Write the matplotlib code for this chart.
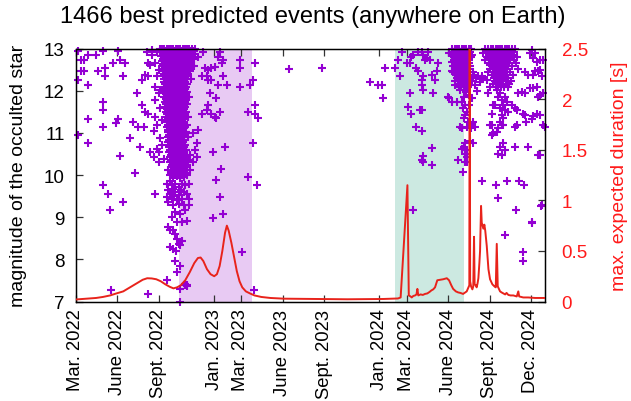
import matplotlib
matplotlib.use('Agg')
import matplotlib.pyplot as plt
import numpy as np

plt.rcParams['font.family'] = ['Liberation Sans', 'DejaVu Sans']

# all dates are given as days after 1 March 2022
START = np.datetime64('2022-03-01')

# sparse events, spring/summer 2022  (day, magnitude)
spring_2022 = [
    (6, 12.95), (11, 12.73), (18, 12.73), (28, 12.84), (45, 12.84), (61, 12.95), (94, 12.95),
    (83, 12.66), (98, 12.73), (109, 12.66), (11, 12.46), (18, 12.46), (6, 12.26), (28, 12.14),
    (50, 12.46), (65, 12.54), (65, 12.34), (105, 12.34), (61, 11.74), (61, 11.54), (28, 11.34),
    (94, 11.34), (90, 11.23), (61, 11.15), (127, 11.27), (138, 11.15), (6, 10.95), (28, 10.75),
    (120, 10.87), (98, 10.45), (131, 10.06), (135, 11.94), (61, 9.76), (72, 9.56), (105, 9.36),
    (75, 9.16), (79, 7.28), (160, 7.18), (175, 9.56),
    (157, 12.93), (164, 12.61), (175, 12.65), (160, 12.34), (153, 12.38), (179, 12.34),
    (175, 12.1), (186, 12.02), (183, 11.94), (146, 11.66), (153, 11.5), (160, 11.46),
    (175, 11.38), (179, 11.19), (150, 11.15), (186, 10.87), (190, 10.71), (183, 10.55),
    (164, 10.55), (172, 10.43), (183, 10.31), (194, 10.39), (146, 12.26), (168, 12.85),
    (179, 12.93), (142, 10.67), (179, 10.63), (175, 11.78), (160, 12.66), (168, 12.97),
    (183, 12.5), (186, 11.6), (172, 11.05), (190, 11.3),
]

# the dense column of autumn 2022: magnitude -> days
column_2022 = [
    (13.00, [186, 191, 196, 201, 206, 211, 216, 221, 226, 231, 236, 241, 246, 251, 257, 264]),
    (12.94, [189, 194, 199, 204, 209, 214, 219, 224, 229, 234, 239, 244, 249, 255, 261]),
    (12.88, [192, 197, 202, 207, 212, 217, 222, 227, 232, 237, 242, 247, 253, 259]),
    (12.82, [188, 195, 200, 205, 210, 215, 220, 225, 230, 235, 240, 245, 251, 256]),
    (12.76, [193, 198, 203, 208, 213, 218, 223, 228, 233, 238, 243, 249, 262]),
    (12.70, [190, 196, 201, 206, 211, 216, 221, 226, 231, 236, 241, 247, 254]),
    (12.64, [193, 199, 204, 209, 214, 219, 224, 229, 234, 239, 245, 251]),
    (12.58, [191, 196, 202, 207, 212, 217, 222, 227, 232, 237, 243, 249, 257]),
    (12.52, [194, 199, 205, 210, 215, 220, 225, 230, 235, 241, 247]),
    (12.46, [192, 197, 203, 208, 213, 218, 223, 228, 233, 238, 244, 252]),
    (12.40, [195, 200, 206, 211, 216, 221, 226, 231, 236, 242, 248]),
    (12.34, [193, 198, 204, 209, 214, 219, 224, 229, 234, 240, 246]),
    (12.28, [196, 201, 207, 212, 217, 222, 227, 232, 238, 244, 254]),
    (12.22, [194, 199, 205, 210, 215, 220, 225, 230, 236, 242]),
    (12.16, [197, 202, 208, 213, 218, 223, 228, 233, 239, 247]),
    (12.10, [195, 200, 206, 211, 216, 221, 226, 231, 237, 243]),
    (12.04, [198, 203, 209, 214, 219, 224, 229, 235, 241]),
    (11.98, [196, 201, 207, 212, 217, 222, 227, 232, 238, 246]),
    (11.92, [199, 204, 210, 215, 220, 225, 230, 236, 242]),
    (11.86, [196, 202, 208, 213, 218, 223, 228, 234, 240, 250]),
    (11.80, [200, 205, 211, 216, 221, 226, 231, 237, 243]),
    (11.74, [197, 203, 209, 214, 219, 224, 229, 235, 241]),
    (11.68, [200, 206, 212, 217, 222, 227, 232, 238, 246]),
    (11.62, [198, 204, 210, 215, 220, 225, 230, 236, 242]),
    (11.56, [201, 207, 213, 218, 223, 228, 233, 239]),
    (11.50, [199, 205, 211, 216, 221, 226, 231, 237, 244]),
    (11.44, [202, 208, 214, 219, 224, 229, 234, 240]),
    (11.38, [200, 206, 212, 217, 222, 227, 232, 238, 248]),
    (11.32, [203, 209, 215, 220, 225, 230, 235, 241]),
    (11.26, [201, 207, 213, 218, 223, 228, 233, 239]),
    (11.20, [204, 210, 216, 221, 226, 231, 237, 245]),
    (11.14, [202, 208, 214, 219, 224, 229, 235, 241]),
    (11.08, [205, 211, 217, 222, 227, 232, 238]),
    (11.02, [203, 209, 215, 220, 225, 230, 236, 243]),
    (10.96, [206, 212, 218, 223, 228, 233, 239]),
    (10.90, [204, 210, 216, 221, 226, 231, 237, 248]),
    (10.84, [207, 213, 219, 224, 229, 234, 240]),
    (10.78, [205, 211, 217, 222, 227, 232, 238]),
    (10.72, [208, 214, 220, 225, 230, 235, 242]),
    (10.66, [206, 212, 218, 223, 228, 233, 239]),
    (10.60, [209, 215, 221, 226, 231, 236, 244]),
    (10.54, [207, 213, 219, 224, 229, 234, 240]),
    (10.48, [210, 216, 222, 227, 232, 238, 246]),
    (10.42, [208, 214, 220, 225, 230, 235, 241]),
    (10.36, [211, 217, 223, 228, 233, 239, 249]),
    (10.30, [209, 215, 221, 226, 231, 237, 243]),
    (10.24, [212, 218, 224, 229, 234, 240, 247]),
    (10.18, [210, 216, 222, 227, 232, 238, 244]),
    (10.12, [213, 219, 225, 230, 236, 242, 252]),
    (10.06, [211, 217, 223, 228, 234, 240, 247]),
    (10.00, [214, 220, 226, 232, 238]),
]

# tail of the column below mag 10
column_tail_2022 = [
    (205, 10.11), (209, 9.99), (216, 9.94), (224, 9.97), (231, 9.92), (239, 9.96), (246, 9.99),
    (201, 9.8), (208, 9.86), (212, 9.76), (220, 9.8), (228, 9.72), (235, 9.8), (242, 9.76),
    (250, 9.8), (205, 9.64), (209, 9.56), (216, 9.68), (220, 9.6), (228, 9.52), (232, 9.64),
    (239, 9.6), (246, 9.56), (201, 9.48), (212, 9.44), (218, 9.5), (224, 9.4), (235, 9.44),
    (250, 9.44), (205, 9.36), (216, 9.28), (228, 9.32), (239, 9.28), (250, 9.28),
    (220, 9.12), (231, 9.08), (242, 9.16), (212, 9.0), (224, 8.88), (235, 8.88), (246, 8.92),
    (205, 8.77), (209, 8.69), (216, 8.69), (220, 8.61), (224, 8.49), (228, 8.37), (209, 8.29),
    (216, 8.25), (222, 8.21), (231, 8.33), (235, 8.43), (220, 7.97), (231, 7.85), (224, 7.7),
    (242, 7.42), (246, 7.38), (230, 7.0), (230, 7.3), (201, 7.5),
]

# sparse events inside and after the winter 2022/23 window
winter_2022 = [
    (282, 12.93), (319, 12.93), (315, 12.81), (326, 12.73), (323, 12.65), (363, 12.73),
    (396, 12.65), (363, 12.53), (286, 12.53), (293, 12.49), (300, 12.53), (308, 12.57),
    (289, 12.34), (300, 12.26), (326, 12.34), (278, 12.34), (293, 12.26), (315, 12.14),
    (334, 12.14), (363, 12.1), (392, 12.26), (385, 12.14), (396, 11.66), (381, 11.5),
    (396, 11.46), (403, 11.35), (392, 10.75), (297, 11.94), (311, 11.82), (293, 11.66),
    (289, 11.54), (300, 11.46), (308, 11.38), (319, 11.5), (311, 11.35), (278, 11.46),
    (271, 11.07), (260, 10.99), (267, 10.75), (264, 10.59), (304, 10.55), (330, 10.67),
    (322, 10.15), (252, 10.47), (260, 10.31), (267, 10.43), (270, 12.8), (262, 12.6),
    (311, 9.88), (319, 9.48), (304, 8.97), (326, 9.08), (367, 8.17), (381, 9.96),
    (400, 9.77), (393, 7.28), (241, 7.38), (245, 7.36),
]

# the quiet year 2023
year_2023 = [
    (472, 12.52), (545, 12.55), (650, 12.22), (669, 12.14), (676, 12.14), (680, 11.84),
    (684, 12.54),
]

# spring 2024 window
spring_2024 = [
    (705, 12.54), (720, 12.93), (713, 12.73), (731, 12.66), (742, 12.81), (746, 12.85),
    (757, 12.93), (765, 12.93), (768, 12.85), (779, 12.93), (772, 12.73), (776, 12.77),
    (783, 12.73), (739, 12.66), (801, 12.66), (753, 12.54), (757, 12.46), (768, 12.34),
    (787, 12.38), (798, 12.46), (765, 12.26), (794, 12.26), (831, 12.93), (835, 12.73),
    (831, 12.46), (838, 12.42), (717, 12.34), (739, 11.94), (765, 12.14), (768, 12.02),
    (790, 11.94), (761, 11.54), (765, 11.54), (735, 11.62), (742, 11.44), (824, 11.84),
    (753, 11.15), (765, 11.04), (787, 10.65), (768, 10.46), (765, 10.35), (787, 10.25),
    (768, 10.31), (745, 9.16),
]

# the July 2024 cluster: magnitude -> days
cluster_jul_2024 = [
    (13.00, [832, 838, 843, 848, 853, 858, 863, 868, 874]),
    (12.93, [836, 841, 846, 851, 856, 861, 866, 872]),
    (12.86, [834, 839, 844, 849, 854, 859, 864, 869, 876]),
    (12.79, [837, 842, 847, 852, 857, 862, 867, 873]),
    (12.72, [835, 840, 845, 850, 855, 860, 865, 870]),
    (12.65, [838, 843, 848, 853, 858, 863, 868]),
    (12.58, [833, 841, 846, 851, 856, 861, 866, 872]),
    (12.51, [839, 844, 849, 854, 859, 864, 870]),
    (12.44, [836, 842, 847, 852, 857, 862, 867, 878]),
    (12.37, [840, 845, 850, 855, 860, 865, 871, 881]),
    (12.30, [843, 848, 853, 858, 863, 868, 884]),
    (12.23, [838, 846, 851, 856, 861, 866, 875]),
    (12.16, [844, 849, 854, 859, 864, 870]),
    (12.09, [847, 852, 857, 862, 867]),
]

summer_2024 = [
    (849, 12.02), (857, 11.86), (853, 11.74), (860, 11.66), (868, 11.66), (856, 11.58),
    (864, 11.5), (860, 11.42), (857, 11.35), (866, 11.27), (871, 11.23), (878, 11.27),
    (882, 11.15), (849, 11.15), (853, 11.11), (864, 11.15), (874, 11.11), (860, 10.75),
    (857, 10.67), (864, 10.59), (853, 10.63), (860, 10.51), (845, 10.35), (864, 10.31),
    (871, 10.8), (868, 11.9), (862, 11.98), (875, 11.82), (879, 12.34), (890, 12.34),
    (893, 12.22), (897, 12.34), (882, 12.14), (886, 12.0), (823, 11.86), (831, 11.74),
    (842, 11.74), (838, 12.14), (834, 12.45), (831, 12.69), (824, 12.89), (838, 12.97),
    (856, 10.07), (879, 10.75), (864, 10.43), (860, 10.31),
]

# the Aug./Sept. 2024 cluster: magnitude -> days
cluster_sep_2024 = [
    (13.00, [905, 912, 918, 923, 928, 933, 938, 943, 948, 953, 958, 964, 971]),
    (12.93, [909, 915, 920, 925, 930, 935, 940, 945, 950, 955, 961, 968]),
    (12.86, [913, 918, 923, 928, 933, 938, 943, 948, 953, 958, 965]),
    (12.79, [908, 916, 921, 926, 931, 936, 941, 946, 951, 956, 962, 975]),
    (12.72, [919, 924, 929, 934, 939, 944, 949, 954, 960, 968]),
    (12.65, [914, 922, 927, 932, 937, 942, 947, 952, 958, 972]),
    (12.58, [920, 925, 930, 935, 940, 945, 950, 956, 964]),
    (12.51, [916, 923, 928, 933, 938, 943, 948, 954, 978]),
    (12.44, [921, 926, 931, 936, 941, 946, 952, 960]),
    (12.37, [919, 929, 934, 939, 944, 950, 967]),
    (12.30, [924, 930, 936, 942, 948, 956]),
    (12.23, [927, 933, 939, 945, 953, 962]),
    (12.16, [922, 931, 937, 943, 950, 958]),
    (12.09, [928, 934, 940, 947, 955]),
]

autumn_2024 = [
    (930, 12.02), (938, 11.94), (934, 11.86), (941, 11.78), (949, 11.86), (952, 11.74),
    (945, 11.66), (926, 11.66), (938, 11.58), (949, 11.54), (956, 11.5), (963, 11.66),
    (971, 11.58), (975, 11.54), (941, 11.42), (945, 11.35), (938, 11.27), (941, 11.19),
    (934, 11.11), (930, 11.03), (923, 10.99), (919, 11.19),
    (978, 11.94), (986, 11.98), (993, 11.94), (1004, 12.06), (1019, 12.1), (993, 12.45),
    (1000, 12.38), (1011, 12.38), (1026, 12.49), (1004, 12.89), (1011, 12.77),
    (989, 11.46), (993, 11.42), (996, 11.27), (1026, 11.42), (1033, 11.19), (975, 11.19),
    (971, 11.15), (945, 10.75), (938, 10.67), (949, 10.59), (941, 10.47), (971, 10.67),
    (1000, 10.67), (1022, 10.47), (934, 10.51), (945, 11.2), (1008, 11.34), (1019, 11.46),
    (901, 12.89), (908, 12.81), (904, 12.73), (916, 12.61), (912, 12.45), (897, 12.3),
    (908, 12.26), (916, 12.1), (912, 11.94), (923, 11.66), (919, 11.46), (916, 11.19),
    (919, 10.95),
    (1008, 12.97), (1015, 12.89), (1019, 12.69), (1026, 12.73), (1033, 12.73), (1015, 12.46),
    (1022, 12.46), (1030, 12.34), (1011, 12.06), (1022, 11.86), (1026, 11.9), (1033, 11.94),
    (1011, 11.39), (1037, 11.15), (1026, 10.47), (1030, 9.28), (1008, 8.89),
    (897, 9.85), (928, 9.76), (952, 9.85), (980, 9.85), (991, 9.76), (933, 9.46),
    (972, 9.16), (1028, 9.27), (1008, 8.87), (948, 8.57), (989, 8.17), (989, 7.97),
]

# maximum expected duration [s]
duration_days = [
    0, 6, 15, 30, 45, 60, 76, 90, 105, 120, 135, 148, 158, 168, 178, 188, 198, 208, 216,
    224, 232, 242, 252, 262, 270, 276, 282, 290, 298, 306, 312, 318, 324, 330, 334, 338,
    344, 350, 356, 362, 368, 376, 385, 395, 410, 430, 460, 520, 600, 680, 712, 718, 733,
    736, 740, 742.5, 746, 750, 753, 755, 757, 762, 767, 772, 777, 782, 786, 790, 794, 799,
    805, 812, 820, 825, 830, 834, 840, 845, 850, 856, 861, 864, 868, 869.8, 870.6, 871.6,
    873.6, 876.5, 878.5, 880.2, 881.5, 884, 886, 888, 889.8, 892, 893.5, 895.7, 897.2, 899,
    900.8, 903, 905, 908.3, 912, 915.6, 920.7, 925.2, 928.2, 930.4, 932.6, 937.7, 941, 945,
    949, 952, 956, 961, 967, 971, 974.6, 978, 980, 985, 989, 1000, 1015, 1037,
]
duration_s = [
    0.02, 0.022, 0.025, 0.03, 0.035, 0.045, 0.06, 0.08, 0.1, 0.14, 0.18, 0.215, 0.23, 0.228,
    0.22, 0.2, 0.17, 0.145, 0.13, 0.14, 0.16, 0.21, 0.29, 0.38, 0.43, 0.435, 0.4, 0.32, 0.27,
    0.25, 0.27, 0.35, 0.5, 0.68, 0.75, 0.7, 0.58, 0.44, 0.3, 0.2, 0.14, 0.1, 0.08, 0.06,
    0.045, 0.035, 0.028, 0.025, 0.022, 0.025, 0.03, 0.04, 1.15, 0.06, 0.05, 0.04, 0.055,
    0.06, 0.07, 0.125, 0.06, 0.07, 0.065, 0.075, 0.08, 0.095, 0.11, 0.12, 0.14, 0.21, 0.215,
    0.22, 0.23, 0.21, 0.16, 0.125, 0.1, 0.09, 0.085, 0.075, 0.09, 0.1, 0.14, 0.16, 3.2, 0.2,
    0.15, 0.12, 0.15, 0.64, 0.17, 0.16, 0.14, 0.18, 0.23, 0.38, 0.5, 0.945, 0.78, 0.75, 0.72,
    0.76, 0.7, 0.55, 0.32, 0.22, 0.17, 0.15, 0.14, 0.57, 0.15, 0.1, 0.09, 0.08, 0.07, 0.085,
    0.065, 0.06, 0.06, 0.055, 0.05, 0.1, 0.05, 0.045, 0.04, 0.04, 0.035, 0.035,
]

tick_days = [0, 92, 184, 306, 365, 457, 549, 671, 731, 823, 915, 1006]
tick_labels = ['Mar. 2022', 'June 2022', 'Sept. 2022', 'Jan. 2023', 'Mar. 2023', 'June 2023',
               'Sept. 2023', 'Jan. 2024', 'Mar. 2024', 'June 2024', 'Sept. 2024', 'Dec. 2024']

# observing windows (start day, end day, colour)
windows = [(228, 389, '#e8caf3'), (705.5, 858, '#cce9e1')]


def to_dates(days):
    hours = np.round(np.asarray(days, dtype=float) * 24).astype(int)
    return START + hours.astype('timedelta64[h]')


def flatten_rows(rows):
    d, m = [], []
    for mag, days in rows:
        d += days
        m += [mag] * len(days)
    return d, m


ev_days, ev_mags = [], []
for pts in [spring_2022, column_tail_2022, winter_2022, year_2023, spring_2024,
            summer_2024, autumn_2024]:
    ev_days += [p[0] for p in pts]
    ev_mags += [p[1] for p in pts]
for rows in [column_2022, cluster_jul_2024, cluster_sep_2024]:
    d, m = flatten_rows(rows)
    ev_days += d
    ev_mags += m

fig = plt.figure(figsize=(6.31, 4.02), dpi=100)
ax = fig.add_axes([0.12, 0.2475, 0.7437, 0.629])

for a, b, c in windows:
    ax.axvspan(to_dates([a])[0], to_dates([b])[0], color=c, lw=0, zorder=0)

ax.plot(to_dates(ev_days), ev_mags, '+', color='#9400d3', ms=5.8, mew=1.5,
        clip_on=False, zorder=2)

ax.set_xlim(to_dates([0])[0], to_dates([1037])[0])
ax.set_ylim(7, 13)
ax.set_yticks(range(7, 14))
ax.set_xticks(to_dates(tick_days))
ax.set_xticklabels(tick_labels, rotation=90, fontsize=13.3)
ax.tick_params(axis='y', labelsize=13.5, pad=8)
ax.tick_params(axis='x', pad=5)
ax.tick_params(direction='in', length=5, width=0.9, top=True, right=True, color='#333333')
for s in ax.spines.values():
    s.set_linewidth(1.0)

ax2 = ax.twinx()
ax2.plot(to_dates(duration_days), duration_s, color='#e8231b', lw=1.4, zorder=3)
ax2.set_ylim(0, 2.5)
ax2.set_yticks([0, 0.5, 1, 1.5, 2, 2.5])
ax2.set_yticklabels(['0', '0.5', '1', '1.5', '2', '2.5'])
ax2.tick_params(axis='y', direction='in', length=5, width=0.9, colors='#ff1a1a',
                labelsize=13.5, pad=12)
ax2.tick_params(axis='y', color='#333333')

fig.text(0.495, 0.957, '1466 best predicted events (anywhere on Earth)', ha='center',
         va='center', fontsize=17)
fig.text(0.029, 0.5625, 'magnitude of the occulted star', rotation=90, ha='center',
         va='center', fontsize=14)
fig.text(0.981, 0.5625, 'max. expected duration [s]', rotation=90, ha='center',
         va='center', fontsize=14, color='#ff1a1a')

fig.savefig('out.png', dpi=100)
